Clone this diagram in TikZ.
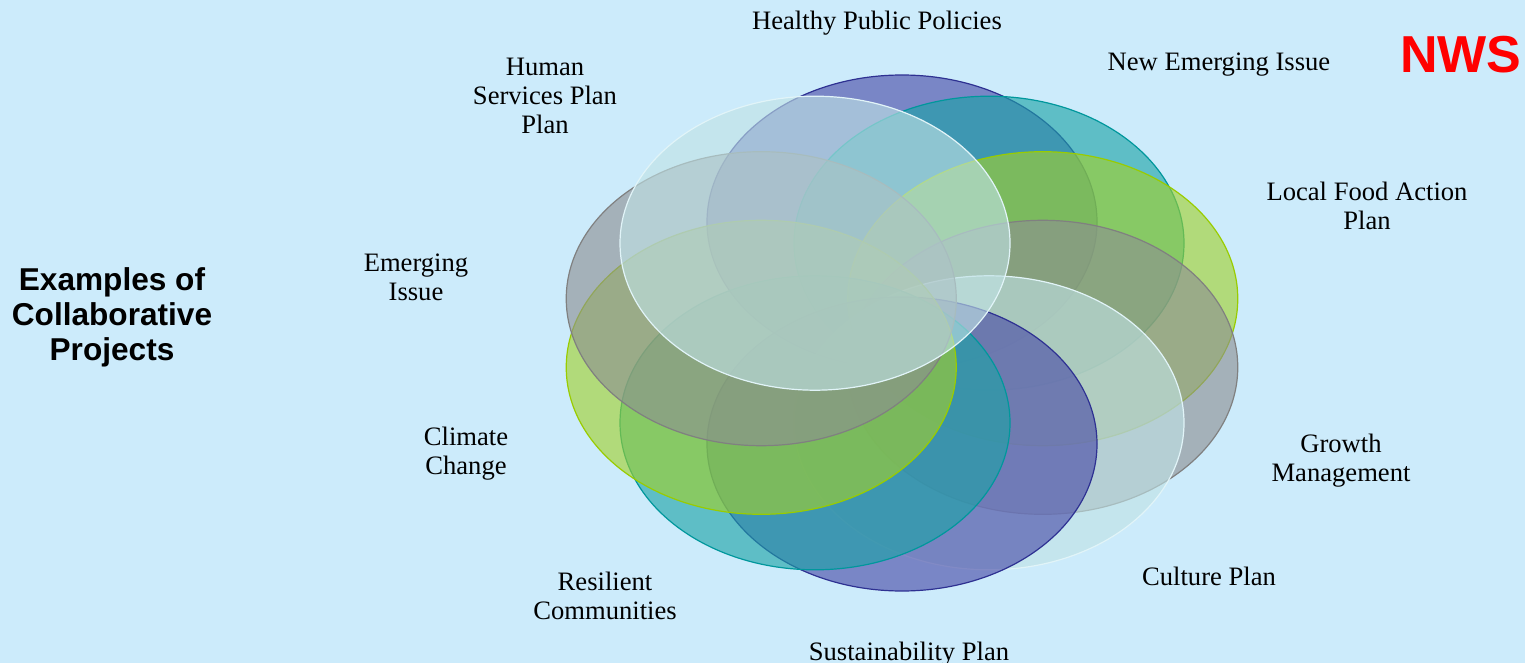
\documentclass[tikz,border=0pt]{standalone}
\usepackage{fontspec}
\setmainfont{Liberation Serif}
\newfontfamily\headfont{Liberation Sans}

\definecolor{bgblue}{RGB}{204,235,251}
\definecolor{ringblue}{RGB}{71,73,166}
\definecolor{ringteal}{RGB}{27,163,166}
\definecolor{ringlime}{RGB}{161,208,43}
\definecolor{ringgray}{RGB}{141,143,146}
\definecolor{ringpale}{RGB}{192,226,229}
\definecolor{edgeblue}{RGB}{46,49,146}
\definecolor{edgeteal}{RGB}{0,151,156}
\definecolor{edgelime}{RGB}{153,204,0}
\definecolor{edgegray}{RGB}{128,128,128}
\definecolor{edgepale}{RGB}{225,244,248}

\begin{document}
\begin{tikzpicture}[%
        x = 0.5pt,
        y = -0.5pt,
        blob/.style = {line width = 0.6pt, fill opacity = 0.62},
        lbl/.style = {align = center, inner sep = 0pt,
            font = \fontsize{13.3}{14.5}\selectfont},
        heading/.style = {align = center, inner sep = 0pt,
            font = \headfont\bfseries\fontsize{15.8}{17.5}\selectfont}
    ]

        % Size of the picture and its background.
        \useasboundingbox (0, 0) rectangle (1525, 663);
        \fill[bgblue] (0, 0) rectangle (1525, 663);

        % Ring of ellipses, drawn clockwise starting at the top.
        \foreach \ang/\col in {90/blue, 54/teal, 18/lime, -18/gray, -54/pale,
                -90/blue, -126/teal, -162/lime, -198/gray, -234/pale}
            \draw[blob, fill = ring\col, draw = edge\col]
                ({902 + 148*cos(\ang)}, {333 - 111*sin(\ang)})
                ellipse [x radius = 195, y radius = 147];

        % Labels round the ring.
        \node[lbl] (healthy) at (877, 23) {Healthy Public Policies};
        \node[lbl] (newissue) at (1219, 65) {New Emerging Issue};
        \node[lbl] (localfood) at (1367, 206) {Local Food Action\\Plan};
        \node[lbl] (growth) at (1341, 461) {Growth\\Management};
        \node[lbl] (culture) at (1209, 576) {Culture Plan};
        \node[lbl] (sustain) at (909, 654) {Sustainability Plan};
        \node[lbl] (resilient) at (605, 596) {Resilient\\Communities};
        \node[lbl] (climate) at (466, 454) {Climate\\Change};
        \node[lbl] (emerging) at (416, 277) {Emerging\\Issue};
        \node[lbl] (human) at (545, 96) {Human\\Services Plan\\Plan};

        % Title on the left and the mark in the corner.
        \node[heading] (examples) at (112, 317)
            {Examples of\\Collaborative\\Projects};
        \node[heading, text = red, font = \headfont\bfseries\fontsize{26}{30}\selectfont]
            (nws) at (1461, 55) {NWS};
    \end{tikzpicture}
\end{document}
